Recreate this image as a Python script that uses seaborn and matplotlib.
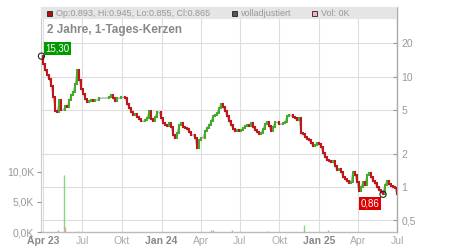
import numpy as np
import pandas as pd
import matplotlib
matplotlib.use("Agg")
import matplotlib.pyplot as plt
from matplotlib.patches import Rectangle
from matplotlib.ticker import NullLocator
import seaborn as sns

# ---------------- data ----------------
start_date = "2023-03-28"
end_date = "2025-07-01"
closes = [
    15.30, 13.0, 11.45, 10.31, 9.49, 8.20, 6.52, 4.87, 4.77, 6.13,
    4.98, 4.96, 5.41, 5.35, 6.13, 6.80, 7.24, 8.55, 11.45, 9.30,
    7.71, 6.94, 6.26, 5.88, 5.95, 6.13, 6.00, 6.10, 6.15, 6.39,
    6.35, 6.40, 6.38, 6.42, 6.52, 6.80, 6.39, 6.00, 6.39, 6.36,
    6.52, 6.50, 6.39, 5.64, 5.19, 4.77, 4.48, 4.58, 4.30, 4.12,
    3.95, 3.93, 4.04, 4.21, 4.87, 4.12, 3.95, 4.30, 4.77, 4.75,
    4.21, 3.79, 3.64, 3.56, 3.79, 3.49, 2.95, 2.78, 3.08, 3.64,
    3.79, 3.49, 3.42, 3.35, 3.15, 2.95, 2.97, 2.78, 2.25, 2.66,
    2.78, 2.80, 3.21, 3.42, 3.64, 3.95, 4.39, 4.48, 4.67, 5.19,
    5.64, 5.30, 4.87, 4.39, 3.95, 3.64, 3.35, 3.21, 3.28, 3.22,
    3.28, 3.42, 3.56, 3.64, 3.56, 3.79, 3.49, 3.28, 3.15, 3.02,
    3.08, 3.35, 3.72, 3.87, 3.56, 3.21, 3.49, 3.87, 3.85, 3.72,
    3.70, 3.79, 3.87, 4.39, 4.48, 4.46, 4.30, 4.21, 4.04, 4.21,
    3.08, 3.02, 2.83, 2.72, 2.66, 2.50, 2.35, 2.40, 2.50, 2.45,
    2.30, 2.03, 1.87, 1.76, 1.72, 1.68, 1.72, 1.55, 1.42, 1.46,
    1.37, 1.23, 1.18, 1.13, 1.09, 1.11, 1.37, 1.28, 1.11, 0.92,
    1.00, 1.11, 1.04, 1.28, 1.34, 1.23, 1.13, 1.09, 1.00, 0.94,
    0.90, 0.86, 1.04, 1.13, 1.06, 1.02, 1.01, 0.98, 0.865,
]

vol_dates = ["2023-05-05", "2023-05-20", "2023-05-22", "2023-06-20",
             "2024-04-25", "2024-04-30", "2024-06-12", "2024-07-01",
             "2024-09-05", "2024-11-28", "2025-01-21"]
vol_values = [300, 9400, 800, 100, 300, 300, 300, 200, 150, 1100, 300]
vol_up = [True, True, False, False, True, True, True, False, False, True, True]

price_ticks = [0.5, 1, 2, 5, 10, 20]
price_labels = ["0,5", "1", "2", "5", "10", "20"]
vol_ticks = [0, 5000, 10000]
vol_labels = ["0,0K", "5,0K", "10,0K"]
x_tick_dates = ["2023-04-01", "2023-07-01", "2023-10-01", "2024-01-01", "2024-04-01",
                "2024-07-01", "2024-10-01", "2025-01-01", "2025-04-01", "2025-07-01"]
x_tick_labels = ["Apr 23", "Jul", "Okt", "Jan 24", "Apr", "Jul", "Okt", "Jan 25", "Apr", "Jul"]
x_tick_bold = [True, False, False, True, False, False, False, True, False, False]

header_ohlc = "Op:0.893, Hi:0.945, Lo:0.855, Cl:0.865"
header_adj = "volladjustiert"
header_vol = "Vol: 0K"
chart_title = "2 Jahre, 1-Tages-Kerzen"
max_label = "15,30"
min_label = "0,86"

# ---------------- styling ----------------
sns.set_style("white")
plt.rcParams["font.family"] = ["Liberation Sans", "DejaVu Sans"]

RED = "#c0161c"
GREEN = "#48aa2a"

dates = pd.date_range(start_date, end_date, periods=len(closes))
closes_arr = np.array(closes)
opens_arr = np.concatenate([[closes_arr[0]], closes_arr[:-1]])
df = pd.DataFrame({"date": dates, "open": opens_arr, "close": closes_arr})
df["up"] = df["close"] >= df["open"]

fig = plt.figure(figsize=(4.5, 2.5), dpi=100)
ax = fig.add_axes([41 / 450, 18 / 250, 356 / 450, 225 / 250])
ax2 = ax.twinx()

ax.set_yscale("log")
ax.set_ylim(0.392, 42.6)
ax.set_xlim(pd.Timestamp("2023-03-27"), pd.Timestamp("2025-07-01"))

# thin gray close line under candles
sns.lineplot(data=df, x="date", y="close", ax=ax, color="#b0b0b0", lw=1.0, zorder=2)

ax.vlines(df["date"], np.minimum(df["open"], df["close"]), np.maximum(df["open"], df["close"]),
          colors=[GREEN if u else RED for u in df["up"]], lw=1.5, zorder=3,
          capstyle="projecting")

# extremes
imax = int(np.argmax(closes_arr))
imin = int(np.argmin(closes_arr))
ax.scatter([dates[imax], dates[imin]], [closes_arr[imax], closes_arr[imin]], s=20,
           facecolors="none", edgecolors="#222222", linewidths=0.8, zorder=6, clip_on=False)
ax.annotate(max_label, (dates[imax], closes_arr[imax]), xytext=(16, 8), textcoords="offset pixels",
            ha="center", va="center", color="white", fontsize=7, zorder=7,
            bbox=dict(boxstyle="square,pad=0.15", fc="#009900", ec="none"))
ax.annotate(min_label, (dates[imin], closes_arr[imin]), xytext=(-13, -9), textcoords="offset pixels",
            ha="center", va="center", color="white", fontsize=7, zorder=7,
            bbox=dict(boxstyle="square,pad=0.15", fc="#dd0000", ec="none"))

# axes ticks / grid
ax.set_yticks(price_ticks)
ax.set_yticklabels(price_labels)
ax.yaxis.set_minor_locator(NullLocator())
ax.yaxis.tick_right()
ax.set_xticks(pd.to_datetime(x_tick_dates))
ax.set_xticklabels(x_tick_labels)
for lab, b in zip(ax.get_xticklabels(), x_tick_bold):
    lab.set_fontweight("bold" if b else "normal")
    lab.set_color("#888888" if b else "#aaaaaa")
ax.tick_params(axis="y", which="both", direction="in", length=3, color="#999999",
               labelcolor="#999999", labelsize=7.5, pad=3, right=True, left=False,
               labelright=True, labelleft=False)
ax.tick_params(axis="x", length=0, labelsize=7.5, pad=3)
ax.grid(True, color="#dddddd", lw=0.8)
ax.set_xlabel("")
ax.set_ylabel("")
for side, c, w in [("left", "#cccccc", 0.8), ("top", "#cccccc", 0.8),
                   ("right", "#aaaaaa", 1.0), ("bottom", "#bbbbbb", 1.0)]:
    ax.spines[side].set_color(c)
    ax.spines[side].set_linewidth(w)
    ax.spines[side].set_visible(True)

# volume twin axis
ax2.set_ylim(0, 37200)
ax2.vlines(pd.to_datetime(vol_dates), 0, vol_values,
           colors=["#80d880" if u else "#f0a0a0" for u in vol_up], lw=1.0)
ax2.set_yticks(vol_ticks)
ax2.set_yticklabels(vol_labels)
ax2.yaxis.tick_left()
ax2.tick_params(axis="y", direction="out", length=3, color="#999999", labelcolor="#999999",
                labelsize=7.5, pad=2, left=True, right=False, labelleft=True, labelright=False)
ax2.grid(False)
ax2.set_ylabel("")
for s in ax2.spines.values():
    s.set_visible(False)

# header band
ax.add_patch(Rectangle((0, 0.9467), 1, 0.0533, transform=ax.transAxes, fc="#e5e5e5",
                       ec="none", zorder=4, clip_on=False))
sq_w, sq_h = 5.5 / 356, 5.5 / 225
for xs, fc, txt in [((46.7 - 41) / 356, "#aa1111", header_ohlc),
                    ((231.7 - 41) / 356, "#555555", header_adj),
                    ((311.7 - 41) / 356, "#f4b4bc", header_vol)]:
    ax.add_patch(Rectangle((xs, 0.959), sq_w, sq_h, transform=ax.transAxes, fc=fc,
                           ec="#222222", lw=0.6, zorder=5, clip_on=False))
    ax.text(xs + 9 / 356, 0.972, txt, transform=ax.transAxes, ha="left", va="center",
            fontsize=6.5, color="#999999", zorder=5)

ax.text((47 - 41) / 356, 0.898, chart_title, transform=ax.transAxes, ha="left", va="center",
        fontsize=8.5, fontweight="bold", color="#888888", zorder=5)

fig.savefig("out.png", dpi=100)
